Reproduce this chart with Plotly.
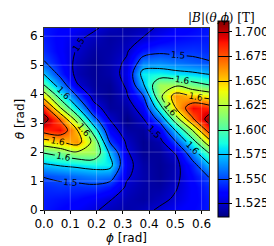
import plotly.graph_objects as go

# grid coordinates (rad)
phi = [0.0, 0.0628, 0.1257, 0.1885, 0.2513, 0.3142, 0.3770, 0.4398, 0.5027, 0.5655, 0.6283]
theta = [0.0, 0.3927, 0.7854, 1.1781, 1.5708, 1.9635, 2.3562, 2.7489, 3.1416,
         3.5343, 3.9270, 4.3197, 4.7124, 5.1051, 5.4978, 5.8905, 6.2832]

# |B| [T] read along theta (bottom -> top) for each phi column
B_phi00 = [1.540, 1.541, 1.544, 1.551, 1.573, 1.600, 1.640, 1.685, 1.710, 1.685, 1.640, 1.600, 1.573, 1.551, 1.544, 1.541, 1.540]
B_phi01 = [1.536, 1.539, 1.546, 1.554, 1.578, 1.608, 1.650, 1.692, 1.672, 1.625, 1.590, 1.563, 1.543, 1.537, 1.534, 1.534, 1.536]
B_phi02 = [1.532, 1.537, 1.545, 1.558, 1.581, 1.620, 1.662, 1.652, 1.614, 1.577, 1.550, 1.526, 1.520, 1.521, 1.524, 1.527, 1.532]
B_phi03 = [1.527, 1.532, 1.546, 1.562, 1.585, 1.620, 1.618, 1.589, 1.557, 1.532, 1.519, 1.516, 1.515, 1.515, 1.517, 1.521, 1.527]
B_phi04 = [1.521, 1.526, 1.540, 1.560, 1.583, 1.572, 1.548, 1.533, 1.524, 1.516, 1.514, 1.515, 1.518, 1.519, 1.518, 1.517, 1.521]
B_phi05 = [1.518, 1.520, 1.523, 1.527, 1.530, 1.527, 1.523, 1.517, 1.512, 1.517, 1.523, 1.527, 1.530, 1.527, 1.523, 1.520, 1.518]
B_phi06 = [1.521, 1.517, 1.518, 1.519, 1.518, 1.515, 1.514, 1.516, 1.524, 1.533, 1.548, 1.572, 1.583, 1.560, 1.540, 1.526, 1.521]
B_phi07 = [1.527, 1.521, 1.517, 1.515, 1.515, 1.516, 1.519, 1.532, 1.557, 1.589, 1.618, 1.620, 1.585, 1.562, 1.546, 1.532, 1.527]
B_phi08 = [1.532, 1.527, 1.524, 1.521, 1.520, 1.526, 1.550, 1.577, 1.614, 1.652, 1.662, 1.620, 1.581, 1.558, 1.545, 1.537, 1.532]
B_phi09 = [1.536, 1.534, 1.534, 1.537, 1.543, 1.563, 1.590, 1.625, 1.672, 1.692, 1.650, 1.608, 1.578, 1.554, 1.546, 1.539, 1.536]
B_phi10 = [1.540, 1.541, 1.544, 1.551, 1.573, 1.600, 1.640, 1.685, 1.710, 1.685, 1.640, 1.600, 1.573, 1.551, 1.544, 1.541, 1.540]

x_ticks = [0.0, 0.1, 0.2, 0.3, 0.4, 0.5, 0.6]
y_ticks = [0, 1, 2, 3, 4, 5, 6]
cbar_ticks = [1.525, 1.550, 1.575, 1.600, 1.625, 1.650, 1.675, 1.700]

columns = [B_phi00, B_phi01, B_phi02, B_phi03, B_phi04, B_phi05,
           B_phi06, B_phi07, B_phi08, B_phi09, B_phi10]
z = [[columns[k][j] for k in range(len(phi))] for j in range(len(theta))]

jet = [
    [0.0, "rgb(0,0,128)"], [0.11, "rgb(0,0,255)"], [0.125, "rgb(0,0,255)"],
    [0.34, "rgb(0,219,255)"], [0.35, "rgb(0,230,247)"], [0.375, "rgb(21,255,226)"],
    [0.64, "rgb(239,255,8)"], [0.65, "rgb(247,245,0)"], [0.66, "rgb(255,236,0)"],
    [0.89, "rgb(255,19,0)"], [0.91, "rgb(232,0,0)"], [1.0, "rgb(128,0,0)"],
]

sans = "DejaVu Sans"
serif = "DejaVu Serif"

fig = go.Figure(go.Contour(
    x=phi, y=theta, z=z,
    colorscale=jet, zauto=False, zmin=1.511, zmax=1.711,
    autocontour=False,
    contours=dict(start=1.525, end=1.7, size=0.025, coloring="heatmap",
                  showlabels=True, labelformat=".1f",
                  labelfont=dict(size=9, color="black", family=sans)),
    line=dict(color="black", width=1, smoothing=1.0),
    colorbar=dict(
        thickness=11, len=196, lenmode="pixels",
        x=1.057, xanchor="left", xpad=0, y=0.5, yanchor="middle", ypad=0,
        tickvals=cbar_ticks, ticktext=["%.3f" % v for v in cbar_ticks],
        ticks="outside", ticklen=3, tickcolor="black",
        tickfont=dict(size=12, family=sans, color="black"),
        outlinewidth=1, outlinecolor="black",
    ),
    hoverinfo="skip",
))

shapes = []
for xv in x_ticks[1:]:
    shapes.append(dict(type="line", xref="x", yref="paper", x0=xv, x1=xv, y0=0, y1=1,
                       line=dict(color="rgba(255,255,255,0.22)", width=1), layer="above"))
for yv in y_ticks[1:]:
    shapes.append(dict(type="line", xref="paper", yref="y", x0=0, x1=1, y0=yv, y1=yv,
                       line=dict(color="rgba(255,255,255,0.22)", width=1), layer="above"))

fig.update_layout(
    width=274, height=246,
    margin=dict(l=28, r=63, t=20, b=30),
    paper_bgcolor="white", plot_bgcolor="white",
    font=dict(family=sans, size=12, color="black"),
    shapes=shapes,
    xaxis=dict(range=[phi[0], phi[-1]], tickvals=x_ticks, ticktext=["%.1f" % v for v in x_ticks],
               ticks="outside", ticklen=3, tickcolor="black", showline=True, mirror=True,
               linecolor="#333", linewidth=1, showgrid=False, zeroline=False,
               tickfont=dict(size=12, family=sans),
               title=dict(text="<i>ϕ</i> [rad]", font=dict(size=12, family=sans), standoff=2)),
    yaxis=dict(range=[theta[0], theta[-1]], tickvals=y_ticks, ticktext=[str(v) for v in y_ticks],
               ticks="outside", ticklen=3, tickcolor="black", showline=True, mirror=True,
               linecolor="#333", linewidth=1, showgrid=False, zeroline=False,
               tickfont=dict(size=12, family=sans),
               title=dict(text="<i>θ</i> [rad]", font=dict(size=12, family=sans), standoff=2)),
    annotations=[dict(text="|<i>B</i>|(<i>θ</i>,<i>ϕ</i>) [T]", xref="paper", yref="paper",
                      x=1.074, y=1.054, xanchor="center", yanchor="middle", showarrow=False,
                      font=dict(size=12, family=serif, color="black"))],
)

fig.write_html("out.html")
